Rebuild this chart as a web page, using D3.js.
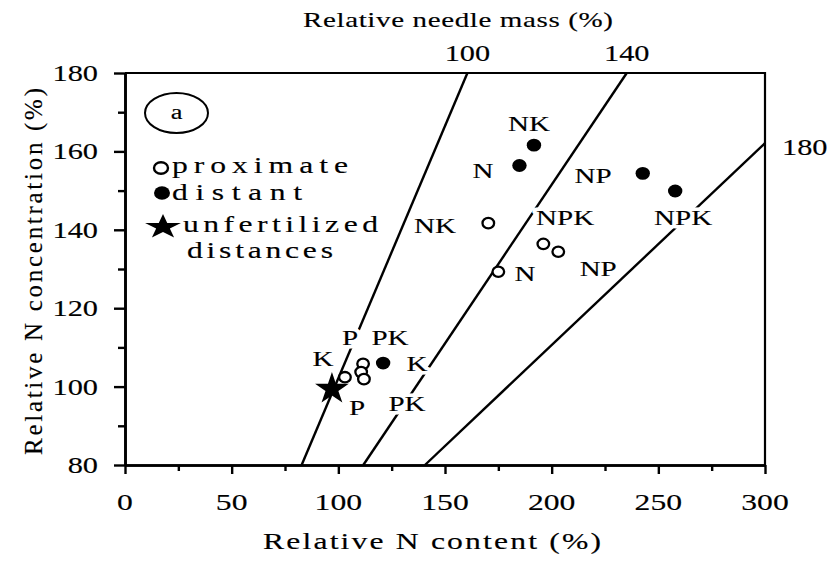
<!DOCTYPE html>
<html>
<head>
<meta charset="utf-8">
<script src="https://cdn.jsdelivr.net/npm/d3@7"></script>
<style>
  html, body { margin: 0; padding: 0; background: #fff; }
  svg { display: block; }
  text { font-family: "Liberation Serif", "Times New Roman", serif; fill: #000; stroke: #000; stroke-width: 0.15px; }
</style>
</head>
<body>
<script>
// ---------------- data ----------------
const xTicksMajor = [0, 50, 100, 150, 200, 250, 300];
const xTicksMinor = [25, 75, 125, 175, 225, 275];
const yTicksMajor = [80, 100, 120, 140, 160, 180];
const yTicksMinor = [90, 110, 130, 150, 170];

// proximate (open circles)
const proximateX = [170.3, 196.1, 203.1, 175.0, 103.1, 111.6, 110.7, 112.0];
const proximateY = [141.7, 136.4, 134.4, 129.3, 102.4, 105.8, 103.7, 101.9];
// distant (filled circles)
const distantX = [191.7, 184.9, 242.7, 257.9, 121.0];
const distantY = [161.6, 156.4, 154.4, 149.9, 106.0];
// unfertilized distances (star)
const unfertX = [97.0];
const unfertY = [99.4];

// treatment labels (placed in data units)
const treatLabels = ["NK", "N", "NP", "NPK", "NK", "NPK", "N", "NP", "P", "PK", "K", "K", "P", "PK"];
const treatLabelX = [189.4, 167.8, 219.4, 261.6, 145.3, 206.3, 187.5, 221.8, 105.5, 124.2, 92.8, 136.9, 108.8, 132.2];
const treatLabelY = [167.2, 155.2, 154.0, 143.3, 141.2, 143.3, 129.0, 130.3, 112.7, 112.7, 107.3, 106.0, 94.8, 95.8];

// relative needle mass isolines
const massLevels = ["100", "140", "180"];
const isoX1 = [82.8, 111.7, 140.6];
const isoY1 = [80, 80, 80];
const isoX2 = [160.5, 235.2, 300];
const isoY2 = [180, 180, 162.1];

const legendLabels = ["proximate", "distant", "unfertilized", "distances"];

// ---------------- drawing ----------------
const W = 833, H = 561;
const SX = 1.32; // horizontal stretch of the scanned lettering
const svg = d3.select("body").append("svg").attr("width", W).attr("height", H);

const x = d3.scaleLinear().domain([0, 300]).range([125, 765]);
const y = d3.scaleLinear().domain([80, 180]).range([465, 73]);

function stext(g, px, py, str, opt) {
  const o = Object.assign({ size: 22, anchor: "middle", sx: SX, halo: false, len: null }, opt || {});
  if (o.halo) {
    g.append("text")
      .attr("transform", `translate(${px},${py}) scale(${o.sx},1)`)
      .attr("text-anchor", o.anchor)
      .style("font-size", o.size + "px")
      .style("fill", "#fff").style("stroke", "#fff").style("stroke-width", "7px")
      .attr("stroke-linejoin", "round")
      .text(str);
  }
  const t = g.append("text")
    .attr("transform", `translate(${px},${py}) scale(${o.sx},1)`)
    .attr("text-anchor", o.anchor)
    .style("font-size", o.size + "px")
    .text(str);
  if (o.len) t.attr("textLength", o.len / o.sx).attr("lengthAdjust", "spacing");
  return t;
}

// frame (top and right)
svg.append("path")
  .attr("d", `M${x(0)},${y(180)}H${x(300)}V${y(80)}`)
  .attr("fill", "none").attr("stroke", "#000").attr("stroke-width", 2.2);

// axes
const gx = svg.append("g").attr("transform", `translate(0,${y(80)})`);
gx.call(d3.axisBottom(x).tickValues(xTicksMajor).tickSize(9).tickSizeOuter(0).tickFormat(""));
gx.append("g").call(d3.axisBottom(x).tickValues(xTicksMinor).tickSize(6).tickSizeOuter(0).tickFormat(""));
const gy = svg.append("g").attr("transform", `translate(${x(0)},0)`);
gy.call(d3.axisLeft(y).tickValues(yTicksMajor).tickSize(11).tickSizeOuter(0).tickFormat(""));
gy.append("g").call(d3.axisLeft(y).tickValues(yTicksMinor).tickSize(7).tickSizeOuter(0).tickFormat(""));
svg.selectAll(".domain").attr("stroke-width", 2.6);
svg.selectAll(".tick line").attr("stroke-width", 2.4);

const lab = svg.append("g");
xTicksMajor.forEach(v => stext(lab, x(v), 510, String(v), { size: 24 }));
yTicksMajor.forEach(v => stext(lab, 98, y(v) + 8, String(v), { size: 23, anchor: "end" }));

// axis titles
stext(lab, 432, 549, "Relative N content (%)", { size: 24, len: 338 });
svg.append("text")
  .attr("transform", `translate(42,${(88 + 455) / 2}) rotate(-90)`)
  .attr("text-anchor", "middle")
  .style("font-size", "25px")
  .attr("textLength", 367).attr("lengthAdjust", "spacing")
  .text("Relative N concentration (%)");
stext(lab, 458, 27, "Relative needle mass (%)", { size: 22, len: 310 });

// isolines
const iso = svg.append("g");
massLevels.forEach((m, i) => {
  iso.append("line")
    .attr("x1", x(isoX1[i])).attr("y1", y(isoY1[i]))
    .attr("x2", x(isoX2[i])).attr("y2", y(isoY2[i]))
    .attr("stroke", "#000").attr("stroke-width", 2.4);
});
stext(lab, x(isoX2[0]), 61, massLevels[0], { size: 23 });
stext(lab, x(isoX2[1]), 61, massLevels[1], { size: 23 });
stext(lab, x(isoX2[2]) + 17, y(isoY2[2]) + 12, massLevels[2], { size: 23, anchor: "start" });

// treatment labels with white halo
const tl = svg.append("g");
treatLabels.forEach((s, i) => {
  stext(tl, x(treatLabelX[i]), y(treatLabelY[i]) + 8, s, { size: 22, halo: true });
});

// points
const pts = svg.append("g");
proximateX.forEach((v, i) => {
  pts.append("ellipse").attr("cx", x(v)).attr("cy", y(proximateY[i]))
    .attr("rx", 5.8).attr("ry", 5.2)
    .attr("fill", "#fff").attr("stroke", "#000").attr("stroke-width", 2.3);
});
distantX.forEach((v, i) => {
  pts.append("ellipse").attr("cx", x(v)).attr("cy", y(distantY[i]))
    .attr("rx", 7.2).attr("ry", 6.4).attr("fill", "#000");
});
unfertX.forEach((v, i) => {
  pts.append("path")
    .attr("transform", `translate(${x(v)},${y(unfertY[i])}) scale(1.05,1)`)
    .attr("d", d3.symbol(d3.symbolStar, 320)())
    .attr("fill", "#000");
});

// legend
const lg = svg.append("g");
lg.append("ellipse").attr("cx", 176.5).attr("cy", 113).attr("rx", 31.5).attr("ry", 20)
  .attr("fill", "none").attr("stroke", "#000").attr("stroke-width", 2);
stext(lg, 176.5, 119, "a", { size: 20 });
lg.append("ellipse").attr("cx", 161).attr("cy", 168).attr("rx", 7).attr("ry", 5.8)
  .attr("fill", "#fff").attr("stroke", "#000").attr("stroke-width", 2.4);
lg.append("ellipse").attr("cx", 162).attr("cy", 193).attr("rx", 8).attr("ry", 6.8).attr("fill", "#000");
lg.append("path")
  .attr("transform", "translate(163,227) scale(1.45,1)")
  .attr("d", d3.symbol(d3.symbolStar, 190)())
  .attr("fill", "#000");
const legX = [172, 172, 183, 187];
const legLen = [176, 130, 195, 146];
const legY = [173, 200, 232, 258];
legendLabels.forEach((s, i) => stext(lg, legX[i], legY[i], s, { size: 24, anchor: "start", len: legLen[i] }));
</script>
</body>
</html>
